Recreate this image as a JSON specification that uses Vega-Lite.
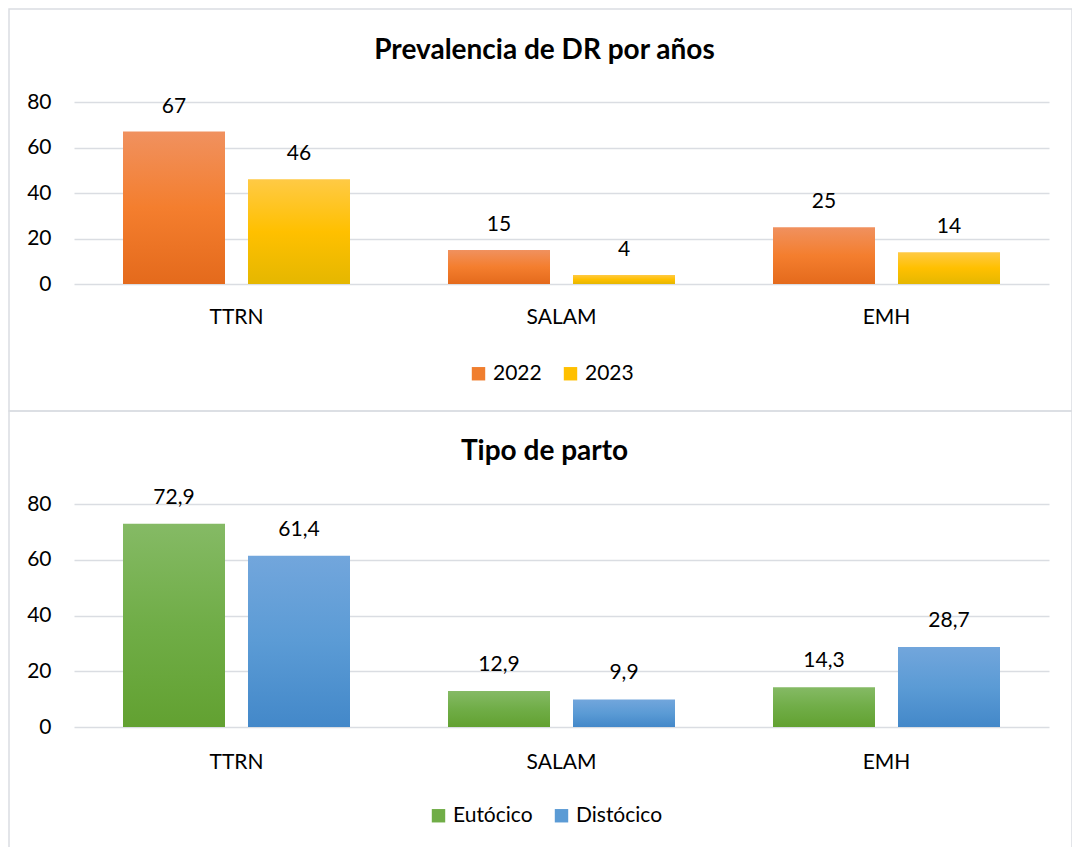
{
  "$schema": "https://vega.github.io/schema/vega-lite/v6.json",
  "padding": {"left": 8, "top": 8, "right": 0, "bottom": 0},
  "autosize": {"type": "pad"},
  "bounds": "flush",
  "spacing": 0,
  "background": "white",
  "resolve": {"scale": {"color": "independent", "xOffset": "independent", "x": "independent", "y": "independent"}, "legend": {"color": "independent"}},
  "config": {
    "locale": {"number": {"decimal": ",", "thousands": ".", "grouping": [3], "currency": ["", " €"]}},
    "font": "Lato",
    "view": {"stroke": "#DADDE2", "strokeWidth": 1.5},
    "axis": {"labelFont": "Lato", "labelFontSize": 21, "labelColor": "#000000", "gridColor": "#DADDE2", "gridWidth": 1.5, "domain": false, "ticks": false, "tickSize": 0, "title": null},
    "title": {"font": "Lato", "fontSize": 28, "fontWeight": "bold", "color": "#000000", "anchor": "middle", "baseline": "middle"},
    "legend": {"orient": "none", "direction": "horizontal", "symbolType": "square", "symbolSize": 180, "symbolStrokeWidth": 0, "labelFontSize": 21, "labelFont": "Lato", "labelColor": "#000000", "labelOffset": 4, "columnPadding": 18, "padding": 0, "title": null}
  },
  "vconcat": [
    {
      "width": 1063,
      "height": 402,
      "title": {"text": "Prevalencia de DR por años", "offset": -56, "dx": 4},
      "data": {"values": [
        {"hospital": "TTRN", "year": "2022", "value": 67},
        {"hospital": "TTRN", "year": "2023", "value": 46},
        {"hospital": "SALAM", "year": "2022", "value": 15},
        {"hospital": "SALAM", "year": "2023", "value": 4},
        {"hospital": "EMH", "year": "2022", "value": 25},
        {"hospital": "EMH", "year": "2023", "value": 14}
      ]},
      "encoding": {
        "x": {"field": "hospital", "type": "nominal", "sort": ["TTRN", "SALAM", "EMH"],
              "scale": {"range": [65, 1040], "paddingInner": 0, "paddingOuter": 0},
              "axis": {"labelAngle": 0, "orient": "bottom", "offset": -127, "labelPadding": 22, "grid": false}},
        "y": {"field": "value", "type": "quantitative",
              "scale": {"domain": [0, 80], "range": [275, 93], "nice": false},
              "axis": {"values": [0, 20, 40, 60, 80], "offset": -65, "labelPadding": 23, "grid": true}},
        "xOffset": {"field": "year", "type": "nominal", "scale": {"domain": ["2022", "2023"], "paddingInner": 0.184, "paddingOuter": 0.392}}
      },
      "layer": [
        {
          "transform": [{"filter": "datum.year == '2022'"}],
          "mark": {"type": "bar", "fill": {"gradient": "linear", "x1": 0, "y1": 0, "x2": 0, "y2": 1, "stops": [{"offset": 0, "color": "#F0915F"}, {"offset": 0.5, "color": "#F47E2E"}, {"offset": 1, "color": "#E46A1C"}]}},
          "encoding": {"color": {"field": "year", "type": "nominal", "scale": {"domain": ["2022", "2023"], "range": ["#F07E2E", "#FFC000"]}, "legend": {"legendX": 459, "legendY": 354}}}
        },
        {
          "transform": [{"filter": "datum.year == '2023'"}],
          "mark": {"type": "bar", "fill": {"gradient": "linear", "x1": 0, "y1": 0, "x2": 0, "y2": 1, "stops": [{"offset": 0, "color": "#FFCA45"}, {"offset": 0.5, "color": "#FFC000"}, {"offset": 1, "color": "#E5B700"}]}},
          "encoding": {"color": {"field": "year", "type": "nominal", "scale": {"domain": ["2022", "2023"], "range": ["#F07E2E", "#FFC000"]}, "legend": {"legendX": 459, "legendY": 354}}}
        },
        {
          "mark": {"type": "text", "baseline": "middle", "dy": -25, "fontSize": 21, "font": "Lato", "color": "#000000"},
          "encoding": {"text": {"field": "value", "type": "quantitative", "format": "d"}}
        }
      ]
    },
    {
      "width": 1063,
      "height": 437,
      "title": {"text": "Tipo de parto", "offset": -55, "dx": 4},
      "data": {"values": [
        {"hospital": "TTRN", "tipo": "Eutócico", "value": 72.9},
        {"hospital": "TTRN", "tipo": "Distócico", "value": 61.4},
        {"hospital": "SALAM", "tipo": "Eutócico", "value": 12.9},
        {"hospital": "SALAM", "tipo": "Distócico", "value": 9.9},
        {"hospital": "EMH", "tipo": "Eutócico", "value": 14.3},
        {"hospital": "EMH", "tipo": "Distócico", "value": 28.7}
      ]},
      "encoding": {
        "x": {"field": "hospital", "type": "nominal", "sort": ["TTRN", "SALAM", "EMH"],
              "scale": {"range": [65, 1040], "paddingInner": 0, "paddingOuter": 0},
              "axis": {"labelAngle": 0, "orient": "bottom", "offset": -121, "labelPadding": 24, "grid": false}},
        "y": {"field": "value", "type": "quantitative",
              "scale": {"domain": [0, 80], "range": [316, 93], "nice": false},
              "axis": {"values": [0, 20, 40, 60, 80], "offset": -65, "labelPadding": 23, "grid": true}},
        "xOffset": {"field": "tipo", "type": "nominal", "scale": {"domain": ["Eutócico", "Distócico"], "paddingInner": 0.184, "paddingOuter": 0.392}}
      },
      "layer": [
        {
          "transform": [{"filter": "datum.tipo == 'Eutócico'"}],
          "mark": {"type": "bar", "fill": {"gradient": "linear", "x1": 0, "y1": 0, "x2": 0, "y2": 1, "stops": [{"offset": 0, "color": "#85BA65"}, {"offset": 0.5, "color": "#70AD47"}, {"offset": 1, "color": "#62A131"}]}},
          "encoding": {"color": {"field": "tipo", "type": "nominal", "scale": {"domain": ["Eutócico", "Distócico"], "range": ["#70AD47", "#5B9BD5"]}, "legend": {"legendX": 419, "legendY": 394}}}
        },
        {
          "transform": [{"filter": "datum.tipo == 'Distócico'"}],
          "mark": {"type": "bar", "fill": {"gradient": "linear", "x1": 0, "y1": 0, "x2": 0, "y2": 1, "stops": [{"offset": 0, "color": "#72A6DC"}, {"offset": 0.5, "color": "#5B9BD5"}, {"offset": 1, "color": "#4388C9"}]}},
          "encoding": {"color": {"field": "tipo", "type": "nominal", "scale": {"domain": ["Eutócico", "Distócico"], "range": ["#70AD47", "#5B9BD5"]}, "legend": {"legendX": 419, "legendY": 394}}}
        },
        {
          "mark": {"type": "text", "baseline": "middle", "dy": -26, "fontSize": 21, "font": "Lato", "color": "#000000"},
          "encoding": {"text": {"field": "value", "type": "quantitative", "format": ".1f"}}
        }
      ]
    }
  ]
}
